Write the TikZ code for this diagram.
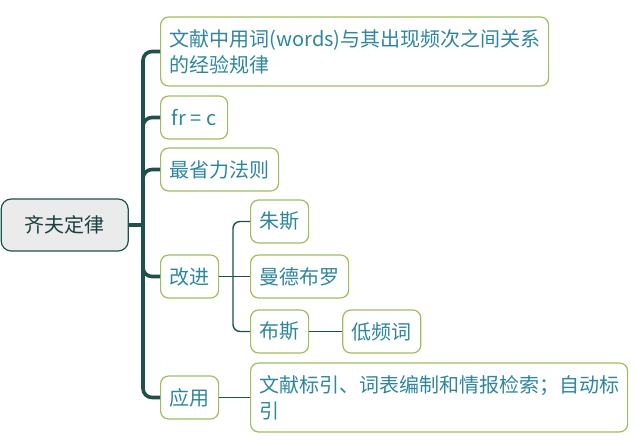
\documentclass[tikz,border=0pt]{standalone}
\usepackage{fontspec}
\setmainfont{Noto Sans CJK SC}
\usepackage{tikz}
\usetikzlibrary{positioning}
\definecolor{trunkc}{RGB}{30,80,76}
\definecolor{leafc}{RGB}{158,190,94}
\definecolor{textc}{RGB}{46,134,160}
\definecolor{rootfill}{RGB}{235,235,235}

\begin{document}
\begin{tikzpicture}[x=1pt,y=-1pt,font=\fontsize{20}{26}\selectfont,
  root/.style={draw=trunkc,line width=1.2pt,fill=rootfill,rounded corners=10pt,minimum width=127pt,minimum height=52pt,inner sep=0pt,text=trunkc!80!black},
  leaf/.style={draw=leafc,line width=1.2pt,fill=white,rounded corners=8pt,minimum height=43pt,inner xsep=9pt,inner ysep=0pt,anchor=west,text=textc,align=left},
  trunk/.style={draw=trunkc,line width=3.6pt,rounded corners=9pt},
  twig/.style={draw=trunkc,line width=1.4pt,rounded corners=7pt}]
  \useasboundingbox (0,0) rectangle (637,442);
  % root and first level
  \node[root,anchor=west](zipf) at (0.6,225){齐夫定律};
  \node[leaf,minimum height=69pt,text width=370pt](def) at (160,51.5){文献中用词(words)与其出现频次之间关系\\的经验规律};
  \node[leaf,minimum width=67pt](frc) at (160,117.5){fr = c};
  \node[leaf](least) at (160,169.5){最省力法则};
  \node[leaf](impr) at (160,276.5){改进};
  \node[leaf](appl) at (160,397.5){应用};
  \coordinate (tr) at (143,225);
  \draw[trunk](zipf.east)--(tr);
  \foreach \n in {def,frc,least,impr,appl} \draw[trunk](tr)|-(\n.west);
  % second level
  \node[leaf](joos) at (250,221.5){朱斯};
  \node[leaf](mand) at (250,276.5){曼德布罗};
  \node[leaf](booth) at (250,331.5){布斯};
  \node[leaf,right=33pt of booth](lowf){低频词};
  \node[leaf,minimum height=69pt,text width=359pt](use) at (250,397.5){文献标引、词表编制和情报检索；自动标\\引};
  \coordinate (sb) at (233,276.5);
  \draw[twig](impr.east)--(mand.west);
  \draw[twig](sb)|-(joos.west);\draw[twig](sb)|-(booth.west);
  \draw[twig](booth)--(lowf);
  \draw[twig](appl)--(use);
\end{tikzpicture}
\end{document}
